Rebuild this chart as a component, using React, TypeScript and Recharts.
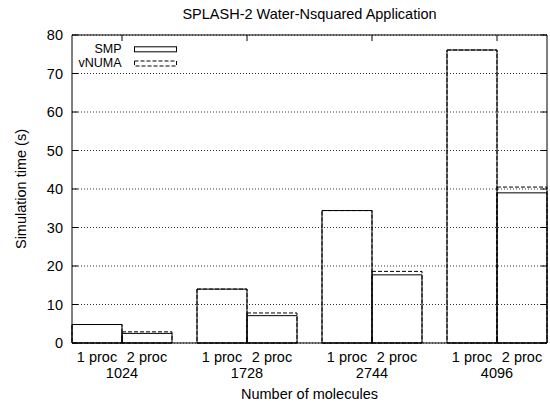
import {
  BarChart,
  Bar,
  XAxis,
  YAxis,
  CartesianGrid,
  Legend,
} from "recharts";

// ─── Data ────────────────────────────────────────────────
const molecules = ["1024", "1728", "2744", "4096"];
const procLabels = ["1 proc", "2 proc"];
const smpOneProc = [4.8, 14.0, 34.4, 76.1];
const smpTwoProc = [2.5, 7.1, 17.7, 39.0];
const vnumaOneProc = [4.8, 14.0, 34.4, 76.1];
const vnumaTwoProc = [2.9, 7.8, 18.6, 40.5];
const yTicks = [0, 10, 20, 30, 40, 50, 60, 70, 80];

const chartData = molecules.map((mol, i) => ({
  mol,
  smp1: smpOneProc[i],
  smp2: smpTwoProc[i],
  vnuma1: vnumaOneProc[i],
  vnuma2: vnumaTwoProc[i],
}));

// ─── Layout ──────────────────────────────────────────────
const W = 550;
const H = 404;
const TOP = 35;
const RIGHT = 3;
const Y_AXIS_W = 72;
const X_AXIS_H = 61;
const PLOT_LEFT = Y_AXIS_W;
const PLOT_RIGHT = W - RIGHT;
const PLOT_TOP = TOP;
const PLOT_BOTTOM = H - X_AXIS_H;
const TICK = 6;
const HALF_BAR = 25;
const FONT = "'Liberation Sans', Arial, Helvetica, sans-serif";
const FS = 14.5;
const DASH = "4 2";

// ─── Ticks ───────────────────────────────────────────────
function XTick({ x, payload }: any) {
  return (
    <g>
      <line x1={x} x2={x} y1={PLOT_TOP} y2={PLOT_TOP + TICK} stroke="#000" />
      <line x1={x} x2={x} y1={PLOT_BOTTOM} y2={PLOT_BOTTOM - TICK} stroke="#000" />
      <text x={x - HALF_BAR} y={362} textAnchor="middle" fontSize={FS} fontFamily={FONT} fill="#000">
        {procLabels[0]}
      </text>
      <text x={x + HALF_BAR} y={362} textAnchor="middle" fontSize={FS} fontFamily={FONT} fill="#000">
        {procLabels[1]}
      </text>
      <text x={x} y={377.5} textAnchor="middle" fontSize={FS} fontFamily={FONT} fill="#000">
        {payload.value}
      </text>
    </g>
  );
}

function YTick({ y, payload }: any) {
  return (
    <g>
      <line x1={PLOT_LEFT} x2={PLOT_LEFT + TICK} y1={y} y2={y} stroke="#000" />
      <line x1={PLOT_RIGHT - TICK} x2={PLOT_RIGHT} y1={y} y2={y} stroke="#000" />
      <text x={PLOT_LEFT - 9} y={y + 5} textAnchor="end" fontSize={FS} fontFamily={FONT} fill="#000">
        {payload.value}
      </text>
    </g>
  );
}

function YLabel({ viewBox }: any) {
  const cx = viewBox.x + 26;
  const cy = viewBox.y + viewBox.height / 2;
  return (
    <text
      x={cx}
      y={cy}
      transform={`rotate(-90 ${cx} ${cy})`}
      textAnchor="middle"
      fontSize={FS}
      fontFamily={FONT}
      fill="#000"
    >
      Simulation time (s)
    </text>
  );
}

// ─── Legend ──────────────────────────────────────────────
const legendDash: Record<string, string | undefined> = {
  smp1: undefined,
  vnuma1: DASH,
};

function LegendBox({ payload }: any) {
  const items = (payload || []).filter((p: any) => p.type !== "none");
  return (
    <svg width={200} height={80}>
      {items.map((p: any, i: number) => {
        const base = 52.8 + i * 14.2;
        return (
          <g key={p.value}>
            <text x={121.5} y={base} textAnchor="end" fontSize={12.5} fontFamily={FONT} fill="#000">
              {p.value}
            </text>
            <rect
              x={134.5}
              y={base - 6}
              width={42}
              height={5}
              fill="none"
              stroke="#000"
              strokeDasharray={legendDash[p.dataKey]}
            />
          </g>
        );
      })}
    </svg>
  );
}

// ─── Component ───────────────────────────────────────────
export default function App() {
  return (
    <div style={{ position: "absolute", left: 0, top: 0, width: W, height: H, background: "#fff" }}>
      <div
        style={{
          position: "absolute",
          top: 6,
          left: PLOT_LEFT,
          width: PLOT_RIGHT - PLOT_LEFT,
          textAlign: "center",
          fontFamily: FONT,
          fontSize: FS,
          lineHeight: "16px",
          color: "#000",
        }}
      >
        SPLASH-2 Water-Nsquared Application
      </div>
      <BarChart
        width={W}
        height={H}
        data={chartData}
        margin={{ top: TOP, right: RIGHT, left: 0, bottom: 0 }}
        barCategoryGap={12.5}
        barGap={0}
      >
        <CartesianGrid vertical={false} stroke="#333" strokeDasharray="1 2" />
        <CartesianGrid
          stroke="#000"
          horizontalCoordinatesGenerator={({ offset }: any) => [offset.top, offset.top + offset.height]}
          verticalCoordinatesGenerator={({ offset }: any) => [offset.left, offset.left + offset.width]}
        />
        <XAxis
          xAxisId="a"
          dataKey="mol"
          height={X_AXIS_H}
          padding={{ left: -12.5, right: -12.5 }}
          axisLine={false}
          tickLine={false}
          tick={<XTick />}
          interval={0}
          label={{
            value: "Number of molecules",
            position: "insideBottom",
            offset: 5.5,
            fontSize: FS,
            fontFamily: FONT,
            fill: "#000",
          }}
        />
        <XAxis xAxisId="b" dataKey="mol" hide padding={{ left: -12.5, right: -12.5 }} />
        <YAxis
          width={Y_AXIS_W}
          domain={[0, 80]}
          ticks={yTicks}
          interval={0}
          axisLine={false}
          tickLine={false}
          tick={<YTick />}
          label={<YLabel />}
        />
        <Legend
          layout="vertical"
          align="center"
          verticalAlign="middle"
          content={<LegendBox />}
          wrapperStyle={{ position: "absolute", left: 0, top: 0, width: 200, height: 80 }}
        />
        <Bar xAxisId="a" dataKey="smp1" name="SMP" fill="none" stroke="#000" isAnimationActive={false} />
        <Bar xAxisId="a" dataKey="smp2" name="SMP" legendType="none" fill="none" stroke="#000" isAnimationActive={false} />
        <Bar xAxisId="b" dataKey="vnuma1" name="vNUMA" fill="none" stroke="#000" strokeDasharray={DASH} isAnimationActive={false} />
        <Bar xAxisId="b" dataKey="vnuma2" name="vNUMA" legendType="none" fill="none" stroke="#000" strokeDasharray={DASH} isAnimationActive={false} />
      </BarChart>
    </div>
  );
}
